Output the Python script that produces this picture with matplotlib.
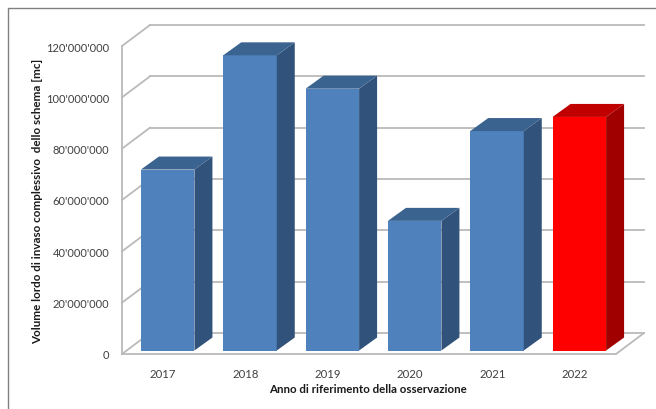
import matplotlib
matplotlib.use("Agg")
import matplotlib.pyplot as plt
from matplotlib.patches import Polygon
from matplotlib.transforms import IdentityTransform

years = ["2017", "2018", "2019", "2020", "2021", "2022"]
volumes = [70.5e6, 115e6, 102e6, 50.5e6, 85.5e6, 91e6]
y_ticks = [0, 20e6, 40e6, 60e6, 80e6, 100e6, 120e6]
y_labels = ["0", "20'000'000", "40'000'000", "60'000'000", "80'000'000", "100'000'000", "120'000'000"]
blue = ("#4F81BD", "#31527A", "#3B6390")
red = ("#FF0000", "#A00000", "#C00000")
face_sets = [blue, blue, blue, blue, blue, red]

W, H = 656, 410
plt.rcParams["font.family"] = ["Lato", "DejaVu Sans"]
fig = plt.figure(figsize=(W / 100, H / 100), dpi=100, facecolor="white")
L, R, T, B = 122, 616, 47, 355
ax = fig.add_axes([L / W, 1 - B / H, (R - L) / W, (B - T) / H])
ax.set_xlim(0, 6)
ax.set_ylim(0, 120e6)
ax.patch.set_visible(False)
for s in ax.spines.values():
    s.set_visible(False)
ax.set_xticks([i + 0.5 for i in range(6)], years, color="#404040", fontsize=8.2)
ax.set_yticks(y_ticks, y_labels, color="#404040", fontsize=8)
ax.tick_params(length=0)
ax.tick_params(axis="x", pad=10)
ax.tick_params(axis="y", pad=9)

ident = IdentityTransform()
GRID = "#BABABA"
DX, DY = 28, 21      # wall depth in pixels
BX, BY = 18, 13      # bar depth in pixels
OX, OY = 4.5, 3.5    # bar offset from the front plane
BAR_W = 0.65

def px(x, y):
    return ax.transData.transform((x, y))

def line(p, q, color=GRID, lw=1.3, z=1):
    ax.add_line(plt.Line2D([p[0], q[0]], [p[1], q[1]], transform=ident, color=color,
                           lw=lw, zorder=z, clip_on=False))

# walls and grid
for v in y_ticks:
    a = px(0, v)
    b = a + (DX, DY)
    c = px(6, v) + (DX, DY)
    line(a, b)
    line(b, c)
p0, p1 = px(0, 0), px(6, 0)
line(p1, p1 + (DX, DY))
line(p0, p1)
line(p0, px(0, 120e6))

# bars
for i, (v, (front, side, top)) in enumerate(zip(volumes, face_sets)):
    x0 = i + 0.5 - BAR_W / 2
    x1 = i + 0.5 + BAR_W / 2
    a = px(x0, 0) + (OX, OY)
    b = px(x1, 0) + (OX, OY)
    c = px(x1, v) + (OX, OY)
    d = px(x0, v) + (OX, OY)
    depth = (BX, BY)
    ax.add_patch(Polygon([a, b, c, d], transform=ident, fc=front, ec="none", zorder=3, clip_on=False))
    ax.add_patch(Polygon([b, b + depth, c + depth, c], transform=ident, fc=side, ec="none", zorder=3, clip_on=False))
    ax.add_patch(Polygon([d, c, c + depth, d + depth], transform=ident, fc=top, ec="none", zorder=3, clip_on=False))

# titles
fig.text(37.5 / W, 1 - 201 / H, "Volume lordo di invaso complessivo  dello schema [mc]", rotation=90,
         ha="center", va="center", fontsize=8.4, fontweight="bold", color="#1A1A1A")
fig.text(368 / W, 1 - 390 / H, "Anno di riferimento della osservazione", ha="center", va="center",
         fontsize=8.25, fontweight="bold", color="#1A1A1A")

# outer chart frame
fig.add_artist(plt.Line2D([7.5 / W, 7.5 / W, 1], [0, 1 - 8.5 / H, 1 - 8.5 / H], color="#808080", lw=1))

fig.savefig("out.png", dpi=100)
